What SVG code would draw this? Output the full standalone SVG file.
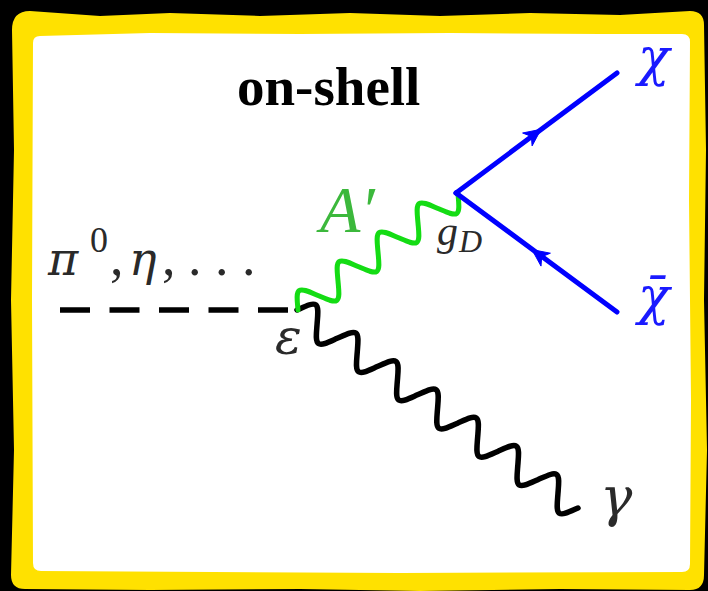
<svg xmlns="http://www.w3.org/2000/svg" width="708" height="591" viewBox="0 0 708 591">
<style>
.math{font-family:"Liberation Serif","DejaVu Serif",serif;fill:#2a2a2a}
.gr{font-family:"DejaVu Serif",serif;font-style:italic}
.it{font-style:italic}
.blue{fill:#1a1aff}
.wave{fill:none;stroke-linecap:round;stroke-linejoin:round}
.fermion{stroke:#0000ff;stroke-width:5;stroke-linecap:round;fill:none}
.arrow{fill:#0000ff;stroke:#0000ff;stroke-width:1;stroke-linejoin:round}
</style>
<rect width="708" height="591" fill="#000"/>
<g id="frame">
<path fill="#ffe100" d="M30,11 L100,16 L170,13 L260,16 L350,13 L440,16 L530,13 L620,15 L690,11 Q704,11 704,25 L706,150 L704,300 L707,450 L704,575 Q704,590 690,590 L560,589 L420,591 L300,589 L150,590 L25,589 Q11,589 11,575 L14,450 L11,300 L14,150 L12,30 Q12,11 30,11 Z"/>
<path fill="#fff" d="M40,36 L150,33 L300,34 L450,33 L600,34 L682,34 Q690,34 690,42 L689,200 L691,400 L690,564 Q690,572 682,572 L400,573 L41,571 Q33,571 33,563 L32,300 L33,43 Q33,36 40,36 Z"/>
</g>
<g id="connectors">
<line x1="60" y1="310" x2="288" y2="310" stroke="#000" stroke-width="5.5" stroke-dasharray="30 19.5"/>
<path class="wave" stroke="#000" stroke-width="5.5" transform="translate(297,310) rotate(35.17)" d="M0,0 c4.665,-7.8 8.35,-15 12.277,-15 c3.93,0 7.61,7.2 12.277,15 c4.665,7.8 8.35,15 12.277,15 c3.93,0 7.61,-7.2 12.277,-15 c4.665,-7.8 8.35,-15 12.277,-15 c3.93,0 7.61,7.2 12.277,15 c4.665,7.8 8.35,15 12.277,15 c3.93,0 7.61,-7.2 12.277,-15 c4.665,-7.8 8.35,-15 12.277,-15 c3.93,0 7.61,7.2 12.277,15 c4.665,7.8 8.35,15 12.277,15 c3.93,0 7.61,-7.2 12.277,-15 c4.665,-7.8 8.35,-15 12.277,-15 c3.93,0 7.61,7.2 12.277,15 c4.665,7.8 8.35,15 12.277,15 c3.93,0 7.61,-7.2 12.277,-15 c4.665,-7.8 8.35,-15 12.277,-15 c3.93,0 7.61,7.2 12.277,15 c4.665,7.8 8.35,15 12.277,15 c3.93,0 7.61,-7.2 12.277,-15 c4.665,-7.8 8.35,-15 12.277,-15 c3.93,0 7.61,7.2 12.277,15 c4.665,7.8 8.35,15 12.277,15 c3.93,0 7.61,-7.2 12.277,-15 c4.665,-7.8 8.35,-15 12.277,-15 c3.93,0 7.61,7.2 12.277,15 c4.665,7.8 8.35,15 12.277,15 c3.93,0 7.61,-7.2 12.277,-15"/>
<path class="wave" stroke="#14dc14" stroke-width="5" transform="translate(298,310) rotate(-35.94)" d="M0,0 c4.693,-7.8 8.398,-15 12.35,-15 c3.952,0 7.657,7.2 12.35,15 c4.693,7.8 8.398,15 12.35,15 c3.952,0 7.657,-7.2 12.35,-15 c4.693,-7.8 8.398,-15 12.35,-15 c3.952,0 7.657,7.2 12.35,15 c4.693,7.8 8.398,15 12.35,15 c3.952,0 7.657,-7.2 12.35,-15 c4.693,-7.8 8.398,-15 12.35,-15 c3.952,0 7.657,7.2 12.35,15 c4.693,7.8 8.398,15 12.35,15 c3.952,0 7.657,-7.2 12.35,-15 c4.693,-7.8 8.398,-15 12.35,-15 c3.952,0 7.657,7.2 12.35,15 c4.693,7.8 8.398,15 12.35,15 c3.952,0 7.657,-7.2 12.35,-15"/>
<line class="fermion" x1="456" y1="193" x2="617" y2="73"/>
<line class="fermion" x1="456" y1="193" x2="617" y2="312"/>
<path class="arrow" d="M541,129.3 L532.1,145.9 L531.4,136.4 L522.6,133 Z"/>
<path class="arrow" d="M532,249.6 L550.4,253.2 L541.7,256.7 L541,266.1 Z"/>
</g>
<g id="title"><text x="237" y="105" font-family="'Liberation Serif',serif" font-weight="bold" font-size="55" fill="#000">on-shell</text></g>
<g id="label-meson"><text class="math" y="275" font-size="54"><tspan x="48" class="gr" font-size="46">π</tspan><tspan x="90" y="252" font-size="36">0</tspan><tspan x="110" y="275">,</tspan><tspan x="129" class="gr" font-size="46">η</tspan><tspan x="162">,</tspan><tspan x="188">. . .</tspan></text></g>
<g id="label-Aprime"><text x="320" y="232" class="math it" font-size="66" style="fill:#3cb83c">A′</text></g>
<g id="label-gD"><text class="math it" x="437" y="245" font-size="42">g<tspan font-size="32" y="252" dx="1">D</tspan></text></g>
<g id="label-eps"><text class="math gr" x="275" y="354" font-size="50">ε</text></g>
<g id="label-chi"><text class="math gr blue" x="638" y="75" font-size="52">χ</text></g>
<g id="label-chibar"><text class="math gr blue" x="638" y="314" font-size="52">χ̄</text></g>
<g id="label-gamma"><text class="math gr" x="600" y="516" font-size="54">γ</text></g>
</svg>
